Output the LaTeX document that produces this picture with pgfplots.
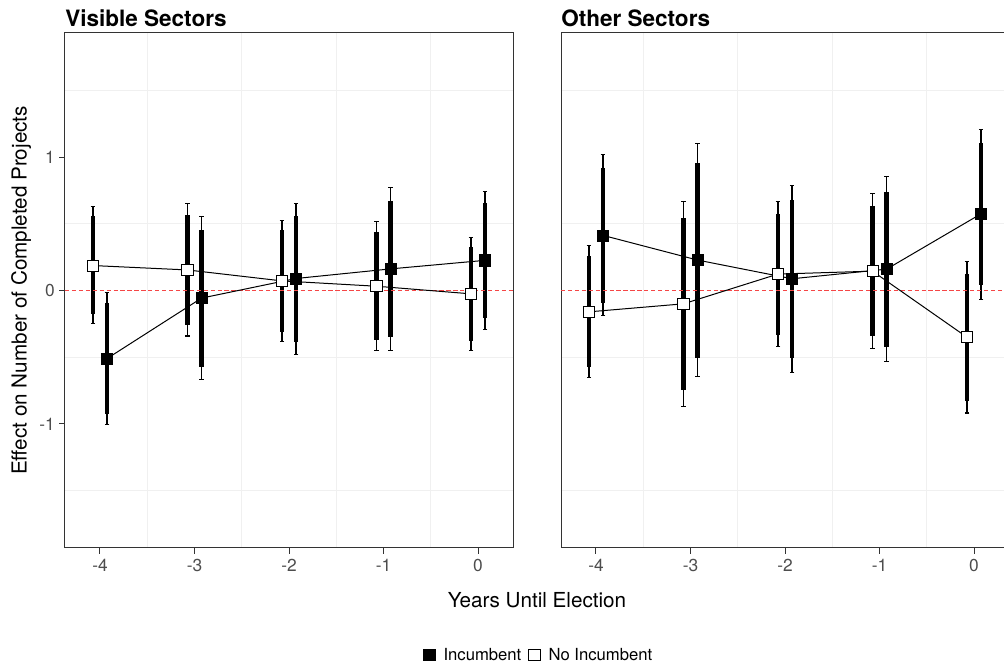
\documentclass[border=0pt]{standalone}
\usepackage{pgfplots}
\pgfplotsset{compat=1.18}
\usepackage{pgfplotstable}
\usepackage{fontspec}
\setmainfont{TeX Gyre Heros}
\definecolor{grey30}{RGB}{77,77,77}
\definecolor{grey20}{RGB}{51,51,51}
\definecolor{gridc}{RGB}{240,240,240}
\definecolor{hl}{RGB}{245,70,70}

% columns: x (dodged), estimate, 95% low, 95% high, 90% low, 90% high
\pgfplotstableread{
x y lo95 hi95 lo90 hi90
-4.075 0.187 -0.249 0.629 -0.174 0.555
-3.075 0.154 -0.341 0.654 -0.259 0.567
-2.075 0.072 -0.383 0.527 -0.308 0.450
-1.075 0.032 -0.453 0.517 -0.373 0.435
-0.075 -0.025 -0.448 0.400 -0.378 0.328
}\lnoinc
\pgfplotstableread{
x y lo95 hi95 lo90 hi90
-3.925 -0.510 -1.005 -0.017 -0.925 -0.097
-2.925 -0.057 -0.669 0.557 -0.572 0.455
-1.925 0.090 -0.478 0.654 -0.383 0.560
-0.925 0.162 -0.448 0.771 -0.351 0.672
0.075 0.226 -0.291 0.739 -0.209 0.654
}\linc
\pgfplotstableread{
x y lo95 hi95 lo90 hi90
-4.075 -0.160 -0.655 0.335 -0.575 0.255
-3.075 -0.100 -0.868 0.670 -0.745 0.540
-2.075 0.123 -0.423 0.665 -0.335 0.575
-1.075 0.145 -0.438 0.730 -0.343 0.633
-0.075 -0.350 -0.918 0.215 -0.825 0.123
}\rnoinc
\pgfplotstableread{
x y lo95 hi95 lo90 hi90
-3.925 0.413 -0.188 1.018 -0.090 0.915
-2.925 0.228 -0.645 1.103 -0.503 0.958
-1.925 0.088 -0.618 0.788 -0.503 0.675
-0.925 0.160 -0.535 0.855 -0.425 0.740
0.075 0.575 -0.068 1.210 0.040 1.108
}\rinc

\pgfplotsset{
  every axis title shift=0pt,
  panel/.style={
    scale only axis, width=336pt, height=386.25pt,
    anchor=south west,
    xmin=-4.37, xmax=0.37, ymin=-1.93, ymax=1.93,
    xtick={-4,-3,-2,-1,0}, xticklabels={-4,-3,-2,-1,0},
    ytick={-1,0,1},
    minor xtick={-3.5,-2.5,-1.5,-0.5},
    minor ytick={-1.5,-0.5,0.5,1.5},
    xminorgrids, yminorgrids,
    minor grid style={draw=gridc, line width=0.6pt},
    minor tick length=0pt,
    major tick length=4.2pt,
    tick align=outside,
    xtick pos=bottom, ytick pos=left,
    tick style={draw=grey20, line width=0.75pt},
    axis line style={draw=grey20, line width=0.75pt},
    ticklabel style={font=\fontsize{13}{15}\selectfont, text=grey30},
    xticklabel style={yshift=-1pt},
    title style={at={(0,1)}, anchor=base west, inner sep=0pt, yshift=4.7pt,
      font=\bfseries\fontsize{16.9}{20}\selectfont},
  },
  ebthin/.style={black, only marks, mark=none, forget plot,
    error bars/.cd, y dir=both, y explicit,
    error bar style={draw=black, line width=1.1pt},
    error mark=|,
    error mark options={draw=black, line width=0.8pt, mark size=1.75pt}},
  ebthick/.style={black, only marks, mark=none, forget plot,
    error bars/.cd, y dir=both, y explicit,
    error bar style={draw=black, line width=3.25pt},
    error mark=none},
  conn/.style={black, line width=0.75pt, mark=none, forget plot},
  incm/.style={only marks, mark=square*, mark size=4.2pt, mark options={draw=black, fill=black, line width=0.4pt}},
  noincm/.style={only marks, mark=square*, mark size=4.2pt, mark options={draw=black, fill=white, line width=0.5pt}},
}

\newcommand{\panelplots}[2]{%
  \addplot[ebthin] table[x=x, y=y, y error plus expr=\thisrow{hi95}-\thisrow{y}, y error minus expr=\thisrow{y}-\thisrow{lo95}] {#1};
  \addplot[ebthick] table[x=x, y=y, y error plus expr=\thisrow{hi90}-\thisrow{y}, y error minus expr=\thisrow{y}-\thisrow{lo90}] {#1};
  \addplot[ebthin] table[x=x, y=y, y error plus expr=\thisrow{hi95}-\thisrow{y}, y error minus expr=\thisrow{y}-\thisrow{lo95}] {#2};
  \addplot[ebthick] table[x=x, y=y, y error plus expr=\thisrow{hi90}-\thisrow{y}, y error minus expr=\thisrow{y}-\thisrow{lo90}] {#2};
  \addplot[hl, line width=1.1pt, dash pattern=on 3.2pt off 2pt, forget plot] coordinates {(-4.37,0) (0.37,0)};
  \addplot[conn] table[x=x, y=y] {#1};
  \addplot[conn] table[x=x, y=y] {#2};
  \addplot[noincm, forget plot] table[x=x, y=y] {#1};
  \addplot[incm, forget plot] table[x=x, y=y] {#2};
}

\begin{document}
\begin{tikzpicture}
\begin{axis}[panel, at={(48.75pt,90pt)},
  title={Visible Sectors},
  yticklabels={-1,0,1},
  ylabel={Effect on Number of Completed Projects},
  ylabel style={at={(-0.0855,0.5)}, anchor=base, font=\fontsize{15.5}{18}\selectfont},
  xlabel={Years Until Election},
  xlabel style={at={(1.0536,-0.1165)}, anchor=base, font=\fontsize{15.5}{18}\selectfont},
  legend style={at={(1.058,-0.208)}, anchor=center, draw=none, fill=none,
    legend columns=2, font=\fontsize{12.5}{14}\selectfont,
    /tikz/every even column/.append style={column sep=3pt},
    legend cell align=left},
  legend image code/.code={\path[#1] plot coordinates {(0pt,0pt)}; \path (-4.5pt,0pt) (8.5pt,0pt);},
]
\panelplots{\lnoinc}{\linc}
\addlegendimage{incm}
\addlegendentry{Incumbent}
\addlegendimage{noincm}
\addlegendentry{No Incumbent}
\end{axis}
\begin{axis}[panel, at={(420.75pt,90pt)},
  title={Other Sectors},
  yticklabels={},
  ytick style={draw=none},
]
\panelplots{\rnoinc}{\rinc}
\end{axis}
\pgfresetboundingbox
\path[use as bounding box] (0,0) rectangle (753pt,501pt);
\end{tikzpicture}
\end{document}
